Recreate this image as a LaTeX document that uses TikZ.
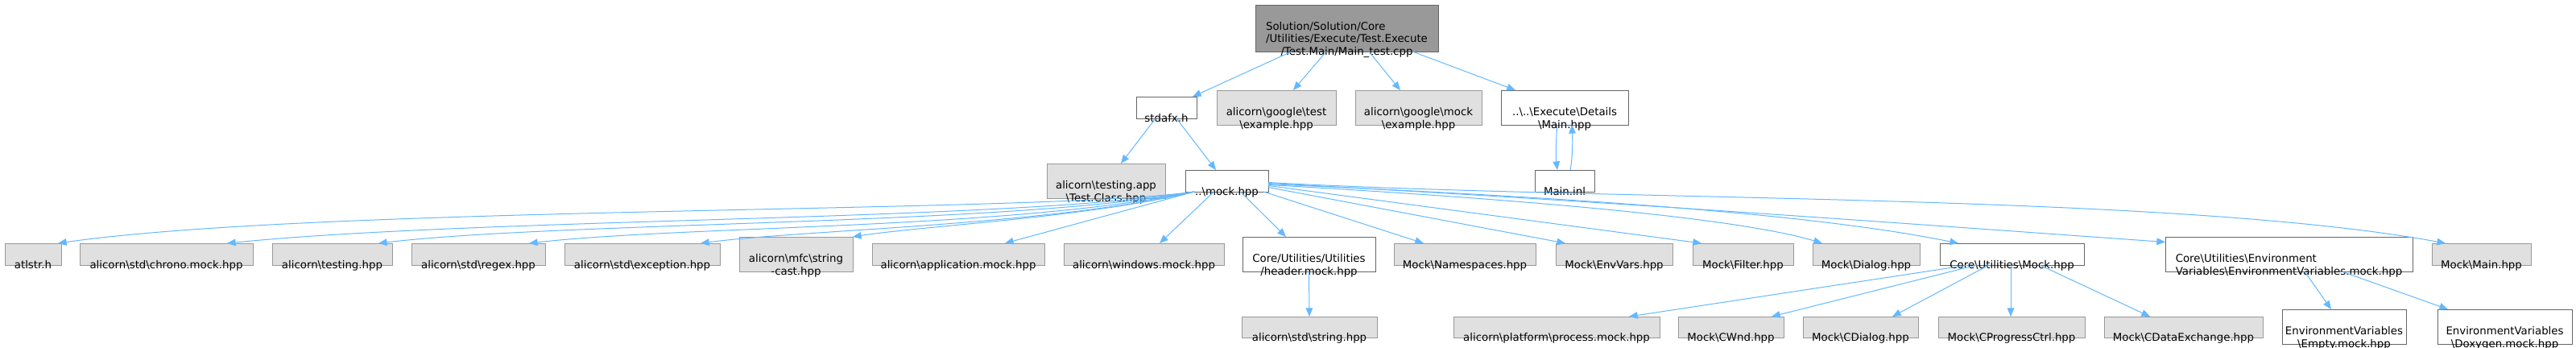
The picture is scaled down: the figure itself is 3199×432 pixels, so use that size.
\documentclass[tikz,border=0pt]{standalone}
\usepackage{fontspec}
\setmainfont{DejaVu Sans}
\usetikzlibrary{arrows.meta}
\definecolor{edgec}{HTML}{63B8FF}
\definecolor{gfill}{HTML}{E0E0E0}
\definecolor{gline}{HTML}{999999}
\definecolor{wline}{HTML}{666666}
\definecolor{rfill}{HTML}{999999}
\newcommand\bs{\textbackslash}
\newcommand\one[7]{%
  \node[#6,minimum width={(#4-#2)*0.75pt},minimum height={(#5-#3)*0.75pt}] (#1) at ({(#2+#4)/2},{(#3+#5)/2}) {};
  \node[lbl] (#1-t) at ([yshift=-3pt]#1.south) {#7};}
\newcommand\two[8]{%
  \node[#6,minimum width={(#4-#2)*0.75pt},minimum height={(#5-#3)*0.75pt}] (#1) at ({(#2+#4)/2},{(#3+#5)/2}) {};
  \node[lbl] (#1-a) at ([yshift=8.625pt]#1.south) {#7};
  \node[lbl] (#1-b) at ([yshift=-3pt]#1.south) {#8};}
\begin{document}
\begin{tikzpicture}[x=0.75pt,y=-0.75pt,
  gbox/.style={draw=gline,fill=gfill,line width=0.75pt,inner sep=0pt,outer sep=0pt},
  wbox/.style={draw=wline,fill=white,line width=0.75pt,inner sep=0pt,outer sep=0pt},
  rbox/.style={draw=wline,fill=rfill,line width=0.75pt,inner sep=0pt,outer sep=0pt},
  lbl/.style={anchor=base,inner sep=0pt,font=\fontsize{10}{12}\selectfont},
  edge/.style={draw=edgec,line width=0.75pt,-{Triangle[length=8pt,width=6.5pt]}}]
\useasboundingbox (0,0) rectangle (3199,432);

% root
\node[rbox,minimum width={227*0.75pt},minimum height={58*0.75pt}] (root) at (1672.5,35) {};
\node[lbl] (root-c) at ([yshift=-3pt]root.south) {/Test.Main/Main\_test.cpp};
\node[lbl] (root-b) at ([yshift=8.625pt]root.south) {/Utilities/Execute/Test.Execute};
\node[lbl,anchor=base west] (root-a) at ([yshift=11.625pt]root-b.base west) {Solution/Solution/Core};

% row 2
\one{stdafx}{1411}{120}{1486}{147}{wbox}{stdafx.h}
\two{gtest}{1511}{112}{1659}{155}{gbox}{alicorn\bs google\bs test}{\bs example.hpp}
\two{gmock}{1683}{112}{1840}{155}{gbox}{alicorn\bs google\bs mock}{\bs example.hpp}
\two{mainhpp}{1864}{112}{2022}{155}{wbox}{..\bs..\bs Execute\bs Details}{\bs Main.hpp}

% row 3
\two{testclass}{1300}{203}{1447}{246}{gbox}{alicorn\bs testing.app}{\bs Test.Class.hpp}
\one{mock}{1472}{211}{1575}{238}{wbox}{..\bs mock.hpp}
\one{maininl}{1906}{211}{1980}{238}{wbox}{Main.inl}

% row 4
\one{atlstr}{6}{302}{76}{329}{gbox}{atlstr.h}
\one{chrono}{99}{302}{314}{329}{gbox}{alicorn\bs std\bs chrono.mock.hpp}
\one{testing}{338}{302}{487}{329}{gbox}{alicorn\bs testing.hpp}
\one{regex}{511}{302}{677}{329}{gbox}{alicorn\bs std\bs regex.hpp}
\one{exception}{701}{302}{894}{329}{gbox}{alicorn\bs std\bs exception.hpp}
\two{stringcast}{918}{294}{1059}{337}{gbox}{alicorn\bs mfc\bs string}{-cast.hpp}
\one{application}{1083}{302}{1297}{329}{gbox}{alicorn\bs application.mock.hpp}
\one{windows}{1321}{302}{1520}{329}{gbox}{alicorn\bs windows.mock.hpp}
\two{header}{1543}{294}{1708}{337}{wbox}{Core/Utilities/Utilities}{/header.mock.hpp}
\one{namespaces}{1731}{302}{1907}{329}{gbox}{Mock\bs Namespaces.hpp}
\one{envvars}{1932}{302}{2077}{329}{gbox}{Mock\bs EnvVars.hpp}
\one{filter}{2102}{302}{2227}{329}{gbox}{Mock\bs Filter.hpp}
\one{dialog}{2251}{302}{2384}{329}{gbox}{Mock\bs Dialog.hpp}
\one{cumock}{2409}{302}{2588}{329}{wbox}{Core\bs Utilities\bs Mock.hpp}
\node[wbox,minimum width={307*0.75pt},minimum height={43*0.75pt}] (envmock) at (2842.5,315.5) {};
\node[lbl] (envmock-b) at ([yshift=-3pt]envmock.south) {Variables\bs EnvironmentVariables.mock.hpp};
\node[lbl,anchor=base west] (envmock-a) at ([yshift=11.625pt]envmock-b.base west) {Core\bs Utilities\bs Environment};
\one{mainmock}{3020}{302}{3143}{329}{gbox}{Mock\bs Main.hpp}

% row 5
\one{string}{1542}{393}{1710}{419}{gbox}{alicorn\bs std\bs string.hpp}
\one{process}{1805}{393}{2061}{419}{gbox}{alicorn\bs platform\bs process.mock.hpp}
\one{cwnd}{2084}{393}{2215}{419}{gbox}{Mock\bs CWnd.hpp}
\one{cdialog}{2239}{393}{2382}{419}{gbox}{Mock\bs CDialog.hpp}
\one{cprog}{2407}{393}{2589}{419}{gbox}{Mock\bs CProgressCtrl.hpp}
\one{cdata}{2613}{393}{2810}{419}{gbox}{Mock\bs CDataExchange.hpp}
\two{empty}{2834}{384}{2988}{427}{wbox}{EnvironmentVariables}{\bs Empty.mock.hpp}
\two{doxygen}{3027}{384}{3194}{427}{wbox}{EnvironmentVariables}{\bs Doxygen.mock.hpp}

% edges: top
\draw[edge] ([shift={(-68.5,0)}]root.south) -- ([shift={(32.5,0)}]stdafx.north);
\draw[edge] ([shift={(-25.5,0)}]root.south) -- ([shift={(21,0)}]gtest.north);
\draw[edge] ([shift={(27.5,0)}]root.south) -- ([shift={(-22.5,0)}]gmock.north);
\draw[edge] ([shift={(81.5,0)}]root.south) -- ([shift={(-61,0)}]mainhpp.north);
\draw[edge] ([shift={(-13.5,0)}]stdafx.south) -- ([shift={(18.5,0)}]testclass.north);
\draw[edge] ([shift={(12.5,0)}]stdafx.south) -- ([shift={(-13.5,0)}]mock.north);
\draw[edge] ([shift={(-9,0)}]mainhpp.south) .. controls (1932,175) and (1932,195) .. ([shift={(-9,0)}]maininl.north);
\draw[edge] ([shift={(7,0)}]maininl.north) .. controls (1953,195) and (1953,175) .. ([shift={(9,0)}]mainhpp.south);

% edges: mock.hpp to the left
\draw[edge] ([shift={(11,0)}]mock.south west) .. controls (1300,265) and (400,255) .. ([shift={(31,0)}]atlstr.north);
\draw[edge] ([shift={(11,0)}]mock.south west) .. controls (1250,275) and (600,270) .. ([shift={(75.5,0)}]chrono.north);
\draw[edge] ([shift={(11,0)}]mock.south west) .. controls (1250,280) and (700,275) .. ([shift={(57.5,0)}]testing.north);
\draw[edge] ([shift={(11,0)}]mock.south west) .. controls (1250,285) and (850,280) .. ([shift={(63,0)}]regex.north);
\draw[edge] ([shift={(11,0)}]mock.south west) .. controls (1300,280) and (1000,285) .. ([shift={(72.5,0)}]exception.north);
\draw[edge] ([shift={(11,0)}]mock.south west) .. controls (1350,270) and (1150,280) .. (stringcast.north east);
\draw[edge] ([shift={(11,0)}]mock.south west) -- ([shift={(58,0)}]application.north);
\draw[edge] ([shift={(-16,0)}]mock.south) -- ([shift={(19.5,0)}]windows.north);
\draw[edge] ([shift={(17,0)}]mock.south) -- ([shift={(-28.5,0)}]header.north);

% edges: mock.hpp to the right
\draw[edge] ([shift={(-6,0)}]mock.south east) -- ([shift={(-51,0)}]namespaces.north);
\draw[edge] ([shift={(0,8)}]mock.east) -- ([shift={(-60.5,0)}]envvars.north);
\draw[edge] ([shift={(0,6)}]mock.east) -- ([shift={(-51.5,0)}]filter.north);
\draw[edge] ([shift={(0,5)}]mock.east) .. controls (1850,245) and (2150,268) .. ([shift={(-54.5,0)}]dialog.north);
\draw[edge] ([shift={(0,4)}]mock.east) .. controls (1950,245) and (2250,265) .. ([shift={(-66.5,0)}]cumock.north);
\draw[edge] ([shift={(0,3)}]mock.east) .. controls (2000,250) and (2400,280) .. ([shift={(0,-15)}]envmock.west);
\draw[edge] ([shift={(0,2)}]mock.east) .. controls (2000,250) and (2700,240) .. ([shift={(-44.5,0)}]mainmock.north);

% lower edges
\draw[edge] (header.south) -- (string.north);
\draw[edge] ([shift={(-53.5,0)}]cumock.south) -- ([shift={(90,0)}]process.north);
\draw[edge] ([shift={(-43.5,0)}]cumock.south) -- ([shift={(50.5,0)}]cwnd.north);
\draw[edge] ([shift={(-28.5,0)}]cumock.south) -- ([shift={(39.5,0)}]cdialog.north);
\draw[edge] ([shift={(-1.5,0)}]cumock.south) -- ([shift={(-1,0)}]cprog.north);
\draw[edge] ([shift={(34.5,0)}]cumock.south) -- ([shift={(-41.5,0)}]cdata.north);
\draw[edge] ([shift={(19.5,0)}]envmock.south) -- ([shift={(-16,0)}]empty.north);
\draw[edge] ([shift={(65.5,0)}]envmock.south) -- ([shift={(-70.5,0)}]doxygen.north);
\end{tikzpicture}
\end{document}
